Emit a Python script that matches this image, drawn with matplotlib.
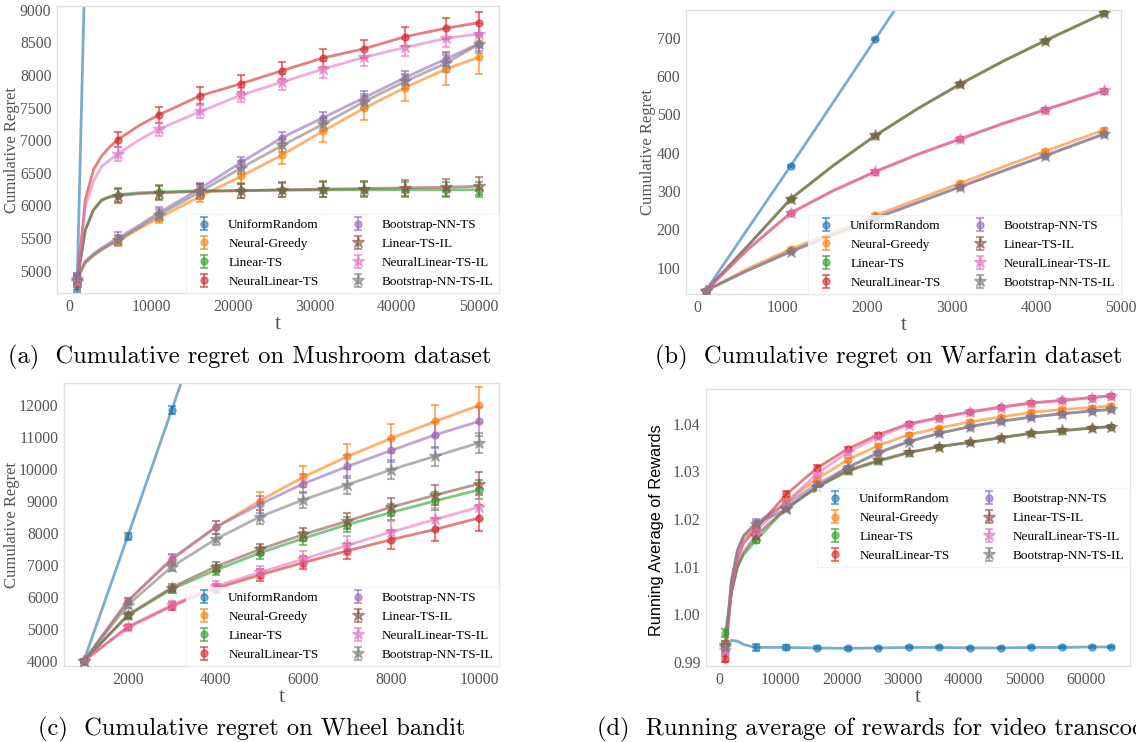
import numpy as np
import matplotlib
matplotlib.use("Agg")
import matplotlib.pyplot as plt
from matplotlib.ticker import FixedLocator, FormatStrFormatter

# ---------------- data ----------------
methods = ["UniformRandom", "Neural-Greedy", "Linear-TS", "NeuralLinear-TS",
           "Bootstrap-NN-TS", "Linear-TS-IL", "NeuralLinear-TS-IL", "Bootstrap-NN-TS-IL"]

# (a) Mushroom
t_a = [1000, 2000, 3000, 4000, 5000, 6000, 8500, 11000, 16000, 21000, 26000,
       31000, 36000, 41000, 46000, 50000]
marks_a = [1000, 6000, 11000, 16000, 21000, 26000, 31000, 36000, 41000, 46000, 50000]
regret_a = {
    "UniformRandom": [4770, 9870, 14970, 20070, 25170, 30270, 43020, 55770, 81270,
                      106770, 132270, 157770, 183270, 208770, 234270, 254670],
    "Neural-Greedy": [4860, 5120, 5230, 5320, 5395, 5460, 5640, 5810, 6140, 6445,
                      6775, 7140, 7490, 7805, 8090, 8270],
    "Linear-TS": [4850, 5630, 5935, 6085, 6140, 6165, 6195, 6205, 6225, 6230, 6235,
                  6238, 6240, 6240, 6240, 6240],
    "NeuralLinear-TS": [4810, 6090, 6550, 6760, 6900, 7010, 7220, 7390, 7680, 7866,
                        8065, 8260, 8400, 8585, 8715, 8800],
    "Bootstrap-NN-TS": [4900, 5150, 5260, 5350, 5430, 5500, 5690, 5890, 6260, 6660,
                        7040, 7345, 7650, 7960, 8245, 8480],
    "Linear-TS-IL": [4840, 5620, 5930, 6080, 6130, 6150, 6180, 6195, 6215, 6225, 6240,
                     6250, 6260, 6270, 6280, 6295],
    "NeuralLinear-TS-IL": [4830, 5990, 6370, 6600, 6700, 6790, 7000, 7170, 7440, 7690,
                           7890, 8090, 8270, 8420, 8560, 8630],
    "Bootstrap-NN-TS-IL": [4880, 5130, 5240, 5330, 5400, 5465, 5660, 5855, 6210, 6575,
                           6920, 7245, 7590, 7900, 8180, 8470],
}
err_a = {
    "UniformRandom": [90, 150, 200, 250, 300, 350, 400, 450, 500, 550, 600],
    "Neural-Greedy": [60, 70, 80, 90, 110, 140, 160, 180, 200, 250, 250],
    "Linear-TS": [90, 110, 110, 110, 110, 110, 115, 115, 115, 115, 115],
    "NeuralLinear-TS": [110, 110, 120, 130, 130, 130, 140, 140, 150, 160, 160],
    "Bootstrap-NN-TS": [70, 90, 90, 90, 90, 90, 90, 100, 100, 110, 120],
    "Linear-TS-IL": [90, 110, 110, 110, 110, 115, 120, 120, 125, 130, 135],
    "NeuralLinear-TS-IL": [80, 110, 100, 100, 110, 120, 130, 130, 130, 140, 150],
    "Bootstrap-NN-TS-IL": [80, 90, 90, 90, 100, 100, 100, 110, 120, 130, 140],
}

# (b) Warfarin
t_b = [100, 600, 1100, 1600, 2100, 2600, 3100, 3600, 4100, 4800]
marks_b = [100, 1100, 2100, 3100, 4100, 4800]
regret_b = {
    "UniformRandom": [40, 203, 365, 530, 696, 862, 1028, 1194, 1360, 1592],
    "Neural-Greedy": [40, 98, 148, 192, 236, 278, 320, 362, 403, 459],
    "Linear-TS": [40, 158, 279, 365, 444, 514, 578, 637, 691, 763],
    "NeuralLinear-TS": [40, 148, 242, 300, 350, 395, 435, 475, 511, 561],
    "Bootstrap-NN-TS": [40, 93, 142, 186, 229, 270, 311, 352, 392, 449],
    "Linear-TS-IL": [40, 158, 279, 366, 445, 515, 579, 638, 692, 764],
    "NeuralLinear-TS-IL": [40, 149, 243, 301, 351, 396, 436, 476, 512, 562],
    "Bootstrap-NN-TS-IL": [40, 93, 141, 185, 228, 269, 310, 351, 391, 448],
}
err_b = {m: [2, 3, 3, 4, 4, 4] for m in methods}

# (c) Wheel bandit
t_c = [1000, 2000, 3000, 4000, 5000, 6000, 7000, 8000, 9000, 10000]
marks_c = t_c
regret_c = {
    "UniformRandom": [4000, 7900, 11850, 15800, 19750, 23700, 27650, 31600, 35550, 39500],
    "Neural-Greedy": [4000, 5870, 7170, 8180, 9010, 9760, 10400, 10970, 11500, 12000],
    "Linear-TS": [4000, 5420, 6250, 6840, 7380, 7840, 8270, 8650, 9010, 9360],
    "NeuralLinear-TS": [4000, 5050, 5720, 6270, 6690, 7080, 7450, 7800, 8120, 8480],
    "Bootstrap-NN-TS": [4000, 5880, 7200, 8190, 8900, 9550, 10090, 10590, 11080, 11500],
    "Linear-TS-IL": [4000, 5440, 6300, 6950, 7490, 7960, 8380, 8820, 9190, 9550],
    "NeuralLinear-TS-IL": [4000, 5070, 5750, 6340, 6770, 7190, 7620, 8040, 8430, 8820],
    "Bootstrap-NN-TS-IL": [4000, 5750, 6950, 7810, 8510, 9050, 9520, 9990, 10410, 10830],
}
err_c = {
    "UniformRandom": [50, 100, 120, 150, 180, 200, 220, 240, 260, 280],
    "Neural-Greedy": [50, 100, 150, 200, 280, 330, 400, 450, 500, 560],
    "Linear-TS": [40, 80, 110, 150, 180, 200, 230, 250, 270, 300],
    "NeuralLinear-TS": [40, 80, 120, 150, 180, 200, 250, 300, 350, 400],
    "Bootstrap-NN-TS": [40, 90, 150, 200, 270, 300, 350, 370, 400, 450],
    "Linear-TS-IL": [40, 80, 120, 150, 170, 200, 250, 280, 320, 370],
    "NeuralLinear-TS-IL": [40, 80, 120, 160, 200, 250, 300, 330, 370, 400],
    "Bootstrap-NN-TS-IL": [40, 90, 130, 170, 210, 250, 280, 300, 300, 320],
}

# (d) Video transcoding
t_d = [1000, 2000, 3000, 4000, 6000, 11000, 16000, 21000, 26000, 31000, 36000,
       41000, 46000, 51000, 56000, 61000, 64000]
marks_d = [1000, 6000, 11000, 16000, 21000, 26000, 31000, 36000, 41000, 46000,
           51000, 56000, 61000, 64000]
reward_d = {
    "UniformRandom": [0.9935, 0.9945, 0.9943, 0.9936, 0.9930, 0.9930, 0.9929, 0.9928,
                      0.9929, 0.9930, 0.9930, 0.9929, 0.9929, 0.9930, 0.9930, 0.9931, 0.9931],
    "Neural-Greedy": [0.9935, 1.0060, 1.0130, 1.0160, 1.0184, 1.0237, 1.0284, 1.0324,
                      1.0354, 1.0377, 1.0391, 1.0404, 1.0414, 1.0424, 1.0430, 1.0434, 1.0438],
    "Linear-TS": [0.9960, 1.0045, 1.0100, 1.0125, 1.0155, 1.0223, 1.0267, 1.0300,
                  1.0321, 1.0339, 1.0352, 1.0361, 1.0370, 1.0380, 1.0385, 1.0391, 1.0394],
    "NeuralLinear-TS": [0.9905, 1.0050, 1.0115, 1.0150, 1.0180, 1.0252, 1.0307, 1.0347,
                        1.0377, 1.0400, 1.0413, 1.0425, 1.0435, 1.0444, 1.0449, 1.0455, 1.0459],
    "Bootstrap-NN-TS": [0.9925, 1.0070, 1.0135, 1.0165, 1.0192, 1.0232, 1.0273, 1.0308,
                        1.0340, 1.0363, 1.0380, 1.0394, 1.0405, 1.0414, 1.0421, 1.0427, 1.0430],
    "Linear-TS-IL": [0.9935, 1.0045, 1.0100, 1.0130, 1.0165, 1.0223, 1.0267, 1.0302,
                     1.0323, 1.0340, 1.0352, 1.0361, 1.0371, 1.0380, 1.0386, 1.0391, 1.0394],
    "NeuralLinear-TS-IL": [0.9925, 1.0050, 1.0115, 1.0150, 1.0175, 1.0235, 1.0295, 1.0340,
                           1.0372, 1.0398, 1.0412, 1.0424, 1.0434, 1.0443, 1.0449, 1.0455, 1.0458],
    "Bootstrap-NN-TS-IL": [0.9930, 1.0070, 1.0135, 1.0165, 1.0190, 1.0220, 1.0268, 1.0308,
                           1.0338, 1.0362, 1.0380, 1.0394, 1.0405, 1.0414, 1.0421, 1.0427, 1.0430],
}
err_d = {
    "UniformRandom": [0.0006, 0.0007, 0.0005, 0.0003, 0.0003, 0.0002, 0.0002, 0.0002,
                      0.0002, 0.0002, 0.0002, 0.0002, 0.0002, 0.0002],
    "Neural-Greedy": [0.0008, 0.0006, 0.0004, 0.0004, 0.0004, 0.0003, 0.0003, 0.0003,
                      0.0003, 0.0003, 0.0003, 0.0003, 0.0003, 0.0003],
    "Linear-TS": [0.0008, 0.0006, 0.0004, 0.0004, 0.0004, 0.0003, 0.0003, 0.0003,
                  0.0003, 0.0003, 0.0003, 0.0003, 0.0003, 0.0003],
    "NeuralLinear-TS": [0.0006, 0.0006, 0.0006, 0.0006, 0.0005, 0.0004, 0.0004, 0.0003,
                        0.0003, 0.0003, 0.0003, 0.0003, 0.0003, 0.0003],
    "Bootstrap-NN-TS": [0.0008, 0.0007, 0.0005, 0.0004, 0.0004, 0.0003, 0.0003, 0.0003,
                        0.0003, 0.0003, 0.0003, 0.0003, 0.0003, 0.0003],
    "Linear-TS-IL": [0.0008, 0.0007, 0.0004, 0.0004, 0.0004, 0.0003, 0.0003, 0.0003,
                     0.0003, 0.0003, 0.0003, 0.0003, 0.0003, 0.0003],
    "NeuralLinear-TS-IL": [0.0008, 0.0006, 0.0005, 0.0005, 0.0005, 0.0004, 0.0003, 0.0003,
                           0.0003, 0.0003, 0.0003, 0.0003, 0.0003, 0.0003],
    "Bootstrap-NN-TS-IL": [0.0008, 0.0006, 0.0004, 0.0004, 0.0004, 0.0003, 0.0003, 0.0003,
                           0.0003, 0.0003, 0.0003, 0.0003, 0.0003, 0.0003],
}

captions = ["(a)  Cumulative regret on Mushroom dataset",
            "(b)  Cumulative regret on Warfarin dataset",
            "(c)  Cumulative regret on Wheel bandit",
            "(d)  Running average of rewards for video transcoding"]

# ---------------- style ----------------
colors = ["#1f77b4", "#ff7f0e", "#2ca02c", "#d62728",
          "#9467bd", "#8c564b", "#e377c2", "#7f7f7f"]
markers = ["o", "o", "o", "o", "o", "*", "*", "*"]
SERIF = "Liberation Serif"
TICK_C = "#555555"

W, H = 1136, 742
fig = plt.figure(figsize=(W / 100, H / 100), dpi=100)
fig.patch.set_facecolor("white")


def make_ax(left, top, right, bottom):
    return fig.add_axes([left / W, 1 - bottom / H, (right - left) / W, (bottom - top) / H])


def draw(ax, t, marks, data, errs):
    t = np.asarray(t, dtype=float)
    idx = [list(t).index(m) for m in marks]
    for name, c, mk in zip(methods, colors, markers):
        y = np.asarray(data[name], dtype=float)
        ax.plot(t, y, color=c, alpha=0.6, lw=2, zorder=2)
        ms = 9 if mk == "*" else 5
        ax.errorbar(t[idx], y[idx], yerr=errs[name], fmt=mk, color=c, alpha=0.6,
                    ms=ms, capsize=3, elinewidth=1.5, capthick=1.5, label=name, zorder=3)


def style(ax, xticks, yticks, ylabel, label_x_px, ax_left_px, ax_w_px,
          yfmt=None, ylabel_sans=False, label_y=0.5):
    ax.set_facecolor("white")
    for s in ax.spines.values():
        s.set_color("#e0e0e0")
        s.set_linewidth(1)
    ax.tick_params(length=0, labelsize=11.3, labelcolor=TICK_C, pad=4)
    ax.xaxis.set_major_locator(FixedLocator(xticks))
    ax.yaxis.set_major_locator(FixedLocator(yticks))
    if yfmt:
        ax.yaxis.set_major_formatter(FormatStrFormatter(yfmt))
    for lab in ax.get_xticklabels() + ax.get_yticklabels():
        lab.set_fontfamily(SERIF)
    ax.set_xlabel("t", fontsize=15, color=TICK_C, family=SERIF, labelpad=0)
    if ylabel_sans:
        lab = ax.set_ylabel(ylabel, fontsize=11.7, color="black", family="Liberation Sans")
    else:
        lab = ax.set_ylabel(ylabel, fontsize=12, color=TICK_C, family=SERIF)
    lab.set_va("center")
    ax.yaxis.set_label_coords((label_x_px - ax_left_px) / ax_w_px, label_y)


def legend(ax, **kw):
    leg = ax.legend(ncol=2, prop={"family": SERIF, "size": 9.5}, frameon=True,
                    fancybox=False, borderaxespad=0, **kw)
    leg.get_frame().set_edgecolor("#eeeeee")
    leg.get_frame().set_linewidth(0.8)


# (a)
ax = make_ax(57, 6, 499, 293)
draw(ax, t_a, marks_a, regret_a, err_a)
ax.set_xlim(-1450, 52450)
ax.set_ylim(4660, 9055)
style(ax, range(0, 50001, 10000), range(5000, 9001, 500), "Cumulative Regret",
      12, 57, 442)
legend(ax, loc="lower right")

# (b)
ax = make_ax(686, 10, 1121, 294)
draw(ax, t_b, marks_b, regret_b, err_b)
ax.set_xlim(-135, 5000)
ax.set_ylim(31, 772)
style(ax, range(0, 5001, 1000), range(100, 701, 100), "Cumulative Regret",
      648, 686, 435)
legend(ax, loc="lower right")

# (c)
ax = make_ax(64, 383, 499, 666)
draw(ax, t_c, marks_c, regret_c, err_c)
ax.set_xlim(550, 10450)
ax.set_ylim(3844, 12700)
style(ax, range(2000, 10001, 2000), range(4000, 12001, 1000), "Cumulative Regret",
      12, 64, 435)
legend(ax, loc="lower right")

# (d)
ax = make_ax(706, 389, 1130, 666)
draw(ax, t_d, marks_d, reward_d, err_d)
ax.set_xlim(-2150, 67150)
ax.set_ylim(0.9891, 1.0473)
style(ax, range(0, 60001, 10000), [0.99, 1.00, 1.01, 1.02, 1.03, 1.04],
      "Running Average of Rewards", 656, 706, 424, yfmt="%.2f", ylabel_sans=True,
      label_y=0.49)
legend(ax, loc="center right", bbox_to_anchor=(1, 0.5))

# captions
cap_pos = [(8, 357), (655, 357), (38, 729), (597, 729)]
for (x, y), txt in zip(cap_pos, captions):
    fig.text(x / W, 1 - y / H, txt, family="cmr10", fontsize=17.6, color="black",
             ha="left", va="center")

fig.savefig("out.png", dpi=100, facecolor="white")
